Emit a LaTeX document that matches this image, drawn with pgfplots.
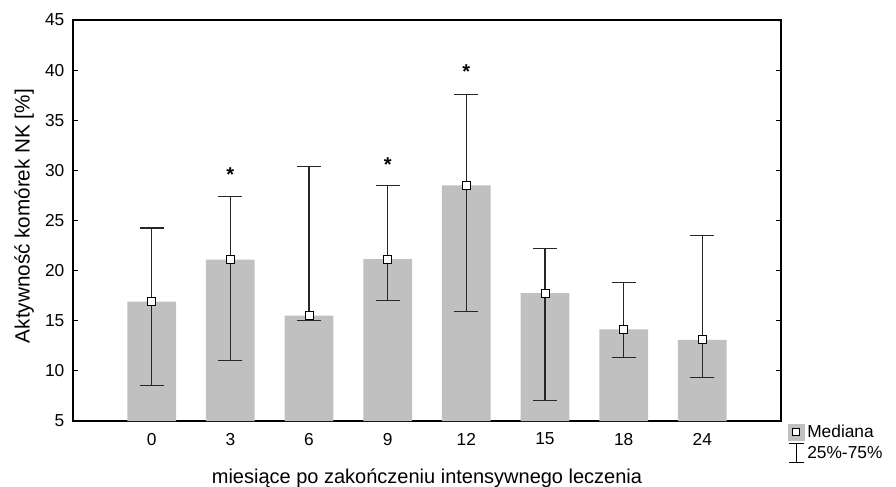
\documentclass[border=0pt]{standalone}
\usepackage{pgfplots}
\pgfplotsset{compat=1.18}
\usepackage{fontspec}
\setmainfont{Liberation Sans}
\definecolor{barg}{HTML}{C0C0C0}
\pgfplotstableread{
x med ep em
0 16.9 7.35 8.4
1 21.1 6.3 10.1
2 15.5 14.85 0.5
3 21.15 7.3 4.15
4 28.5 9.05 12.6
5 17.75 4.45 10.7
6 14.15 4.65 2.85
7 13.1 10.4 3.8
}\datatab
\begin{document}
\begin{tikzpicture}
\begin{axis}[
 at={(0,0)}, anchor=south west,
 scale only axis, width=531pt, height=300.75pt,
 xmin=-1, xmax=8, ymin=5, ymax=45,
 xtick={0,...,7}, xticklabels={0,3,6,9,12,15,18,24},
 ytick={5,10,...,45},
 tick align=inside, ytick pos=both, xtick style={draw=none},
 major tick length=3.75pt,
 axis line style={line width=0.9pt},
 every tick/.style={line width=0.7pt, black},
 /pgf/number format/assume math mode=true,
 tick label style={font=\fontsize{13}{15}\selectfont},
 yticklabel style={xshift=-3pt},
 xticklabel style={yshift=-5.5pt},
 xlabel={miesiące po zakończeniu intensywnego leczenia},
 ylabel={Aktywność komórek NK [\%]},
 xlabel style={at={(axis description cs:0.5,-0.142)}, anchor=center, font=\fontsize{15}{17}\selectfont},
 ylabel style={at={(axis description cs:-0.069,0.511)}, anchor=center, font=\fontsize{15.5}{17}\selectfont},
 legend style={at={(rel axis cs:1.004,0.005)}, anchor=north west, draw=none, fill=none,
   font=\fontsize{13}{15}\selectfont, row sep=1pt},
 legend cell align=left,
 clip=false,
]
\addplot[ybar, bar width=0.62, fill=barg, draw=none, forget plot] table[x=x,y=med]{\datatab};
\addplot[only marks, mark=square*, mark size=3pt, mark options={fill=white, draw=black, line width=0.7pt},
  forget plot,
  error bars/.cd, y dir=both, y explicit,
  error bar style={line width=0.8pt, black!85},
  error mark options={rotate=90, mark size=9pt, line width=0.8pt, black!85}]
  table[x=x, y=med, y error plus=ep, y error minus=em]{\datatab};
\addlegendimage{legend image code/.code={
  \fill[barg] (0pt,-6pt) rectangle (12pt,6pt);
  \draw[black, fill=white, line width=0.7pt] (3.4pt,-2.6pt) rectangle (8.6pt,2.6pt);}}
\addlegendentry{Mediana}
\addlegendimage{legend image code/.code={
  \draw[line width=0.8pt] (6pt,-7.2pt)--(6pt,7.2pt);
  \draw[line width=0.8pt] (0.5pt,7.2pt)--(11.5pt,7.2pt);
  \draw[line width=0.8pt] (0.5pt,-7.2pt)--(11.5pt,-7.2pt);}}
\addlegendentry{25\%-75\%}
\node[anchor=base, font=\fontsize{15}{16}\selectfont\bfseries] at (axis cs:1,28.9) {*};
\node[anchor=base, font=\fontsize{15}{16}\selectfont\bfseries] at (axis cs:3,29.9) {*};
\node[anchor=base, font=\fontsize{15}{16}\selectfont\bfseries] at (axis cs:4,39.2) {*};
\end{axis}
\pgfresetboundingbox
\path[use as bounding box] (-54.75pt,-48.75pt) rectangle (617.25pt,315.75pt);
\end{tikzpicture}
\end{document}
